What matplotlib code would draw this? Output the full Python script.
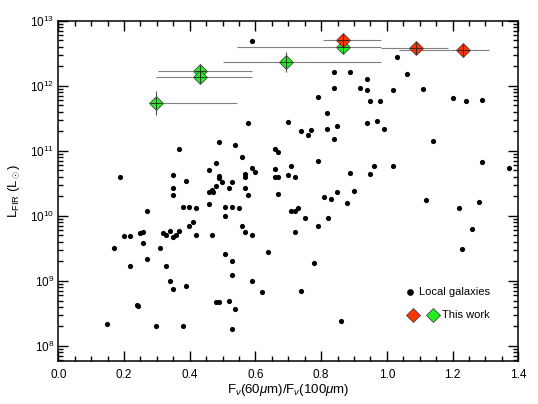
import numpy as np
import matplotlib.pyplot as plt
from matplotlib.ticker import MultipleLocator, LogLocator, FormatStrFormatter, NullFormatter

plt.rcParams['font.family'] = ['Liberation Sans', 'DejaVu Sans']
plt.rcParams['mathtext.fontset'] = 'custom'
plt.rcParams['mathtext.rm'] = 'Liberation Sans'
plt.rcParams['mathtext.it'] = 'Liberation Sans:italic'

# Локальные галактики: отношение потоков 60/100 мкм и L_FIR (в L_sun)
local_ratio = [
    0.148, 0.169, 0.199, 0.218, 0.218, 0.239, 0.241, 0.249, 0.259, 0.259,
    0.269, 0.269, 0.298, 0.309, 0.319, 0.329, 0.329, 0.339, 0.339, 0.348,
    0.358, 0.348, 0.368, 0.378, 0.378, 0.389, 0.399, 0.399, 0.409, 0.419,
    0.419, 0.459, 0.469, 0.479, 0.489, 0.508, 0.508, 0.508, 0.519, 0.529,
    0.529, 0.529, 0.529, 0.539, 0.549, 0.559, 0.569, 0.589, 0.589, 0.619,
    0.639, 0.589, 0.578, 0.368, 0.489, 0.539, 0.559, 0.589, 0.599, 0.569,
    0.569, 0.479, 0.459, 0.489, 0.489, 0.498, 0.529, 0.519, 0.569, 0.578,
    0.479, 0.468, 0.459, 0.471, 0.388, 0.348, 0.348, 0.348, 0.189, 0.669,
    1.030, 0.840, 0.889, 0.939, 1.060, 0.839, 0.919, 0.939, 1.020, 1.110,
    0.789, 0.949, 0.979, 1.200, 1.240, 1.289, 0.819, 0.699, 0.819, 0.849,
    0.939, 0.970, 0.990, 0.739, 0.759, 0.769, 0.839, 1.139, 0.658, 0.669,
    0.789, 0.658, 0.709, 0.658, 0.669, 0.699, 0.719, 0.889, 0.949, 0.960,
    1.020, 1.289, 1.371, 0.810, 0.829, 0.849, 0.900, 1.119, 0.708, 0.721,
    0.730, 0.750, 0.820, 0.719, 0.789, 0.880, 0.779, 0.739, 0.859, 1.259,
    1.229, 1.220, 1.280,
]
local_lfir = [
    2.2e8, 3.2e9, 4.9e9, 4.9e9, 1.7e9, 4.3e8, 4.1e8, 5.4e9, 5.6e9, 3.8e9,
    1.2e10, 2.2e9, 2.0e8, 3.2e9, 5.4e9, 5.0e9, 1.7e9, 5.9e9, 1.0e9, 4.7e9,
    5.0e9, 7.4e8, 5.9e9, 1.35e10, 2.0e8, 8.3e8, 1.38e10, 6.9e9, 8.1e9, 1.3e10,
    5.1e9, 1.5e10, 5.1e9, 4.8e8, 4.7e8, 1.38e10, 1.0e10, 2.6e9, 5.0e8, 1.38e10,
    2.0e9, 1.23e9, 1.8e8, 3.7e8, 1.3e10, 6.9e9, 5.6e9, 5.1e9, 1.0e9, 6.7e8,
    2.8e9, 4.8e12, 2.7e11, 1.07e11, 1.35e11, 1.25e11, 7.9e10, 5.4e10, 4.7e10, 4.4e10,
    3.9e10, 6.6e10, 5.0e10, 4.1e10, 3.8e10, 3.3e10, 3.3e10, 2.7e10, 2.7e10, 2.1e10,
    2.9e10, 2.5e10, 2.35e10, 2.35e10, 3.4e10, 4.2e10, 2.7e10, 2.1e10, 3.9e10, 2.2e10,
    2.8e12, 1.62e12, 1.62e12, 1.29e12, 1.52e12, 9.2e11, 9.2e11, 8.5e11, 8.5e11, 8.9e11,
    6.6e11, 5.9e11, 5.9e11, 6.5e11, 5.9e11, 6.0e11, 3.8e11, 2.75e11, 2.2e11, 2.4e11,
    2.7e11, 2.9e11, 2.15e11, 2.0e11, 1.77e11, 2.1e11, 1.5e11, 1.44e11, 1.05e11, 9.6e10,
    6.9e10, 5.2e10, 5.8e10, 4.0e10, 4.0e10, 4.2e10, 3.9e10, 4.5e10, 4.4e10, 5.9e10,
    5.8e10, 6.8e10, 5.5e10, 1.95e10, 1.8e10, 2.35e10, 2.4e10, 1.75e10, 1.2e10, 1.17e10,
    1.32e10, 9.2e9, 9.2e9, 5.6e9, 6.9e9, 1.6e10, 1.86e9, 7.0e8, 2.4e8, 6.3e9,
    3.1e9, 1.3e10, 1.66e10,
]

# Эта работа: зелёные точки
green_ratio = [0.298, 0.432, 0.432, 0.692, 0.865]
green_ratio_lo = [0.298, 0.304, 0.296, 0.502, 0.543]
green_ratio_hi = [0.543, 0.589, 0.589, 0.981, 0.981]
green_lfir = [5.42e11, 1.66e12, 1.36e12, 2.32e12, 3.94e12]
green_lfir_lo = [3.49e11, 1.30e12, 1.10e12, 1.62e12, 3.19e12]
green_lfir_hi = [8.17e11, 2.18e12, 1.70e12, 3.25e12, 6.10e12]

# Эта работа: красные точки
red_ratio = [0.865, 1.089, 1.231]
red_ratio_lo = [0.806, 0.981, 1.038]
red_ratio_hi = [0.981, 1.187, 1.311]
red_lfir = [5.10e12, 3.76e12, 3.49e12]
red_lfir_lo = [4.60e12, 3.40e12, 3.15e12]
red_lfir_hi = [5.65e12, 4.15e12, 3.85e12]

GREEN = '#22ee22'
RED = '#ff3300'

fig = plt.figure(figsize=(5.38, 4.04), dpi=100)
ax = fig.add_axes([0.1084, 0.1072, 0.855, 0.8416])

ax.scatter(local_ratio, local_lfir, s=14, color='black', zorder=3, linewidths=0)


def draw_work(xv, xlo, xhi, yv, ylo, yhi, color):
    xv = np.array(xv)
    yv = np.array(yv)
    xerr = [xv - np.array(xlo), np.array(xhi) - xv]
    yerr = [yv - np.array(ylo), np.array(yhi) - yv]
    ax.errorbar(xv, yv, xerr=xerr, fmt='none', ecolor='#808080',
                elinewidth=0.8, capsize=0, zorder=2)
    ax.errorbar(xv, yv, yerr=yerr, fmt='none', ecolor='#555555',
                elinewidth=0.8, capsize=0, zorder=2)
    ax.plot(xv, yv, 'D', ms=7, mfc=color, mec='#444444', mew=0.6, zorder=4)
    ax.plot(xv, yv, '+', ms=8, color='#222222', mew=0.6, zorder=5)


draw_work(green_ratio, green_ratio_lo, green_ratio_hi,
          green_lfir, green_lfir_lo, green_lfir_hi, GREEN)
draw_work(red_ratio, red_ratio_lo, red_ratio_hi,
          red_lfir, red_lfir_lo, red_lfir_hi, RED)

ax.set_yscale('log')
ax.set_xlim(0.0, 1.4)
ax.set_ylim(10 ** 7.774, 1e13)

ax.xaxis.set_major_locator(MultipleLocator(0.2))
ax.xaxis.set_minor_locator(MultipleLocator(0.05))
ax.xaxis.set_major_formatter(FormatStrFormatter('%.1f'))
ax.yaxis.set_major_locator(LogLocator(base=10, numticks=20))
ax.yaxis.set_minor_locator(LogLocator(base=10, subs=np.arange(2, 10), numticks=20))
ax.yaxis.set_minor_formatter(NullFormatter())

ax.tick_params(which='both', direction='in', top=True, right=True,
               labelsize=8.5, width=1.0)
ax.tick_params(which='major', length=7)
ax.tick_params(which='minor', length=3.5)
ax.tick_params(axis='x', pad=6)
ax.tick_params(axis='y', pad=3)
for sp in ax.spines.values():
    sp.set_linewidth(1.1)

ax.set_xlabel(r'F$_\nu$(60$\mu$m)/F$_\nu$(100$\mu$m)', fontsize=9.5, labelpad=1)
ax.set_ylabel(r'L$_{\rm FIR}$ (L$_\odot$)', fontsize=9.5, labelpad=6)

# Легенда вручную
ax.plot([0.7646], [0.201], 'o', ms=3.8, color='black', transform=ax.transAxes,
        clip_on=False)
ax.text(0.784, 0.201, 'Local galaxies', transform=ax.transAxes, fontsize=8,
        va='center', ha='left')
ax.plot([0.772], [0.134], 'D', ms=7, mfc=RED, mec='#444444', mew=0.6,
        transform=ax.transAxes)
ax.plot([0.815], [0.134], 'D', ms=7, mfc=GREEN, mec='#444444', mew=0.6,
        transform=ax.transAxes)
ax.text(0.835, 0.134, 'This work', transform=ax.transAxes, fontsize=8,
        va='center', ha='left')

fig.savefig('out.png', dpi=100)
